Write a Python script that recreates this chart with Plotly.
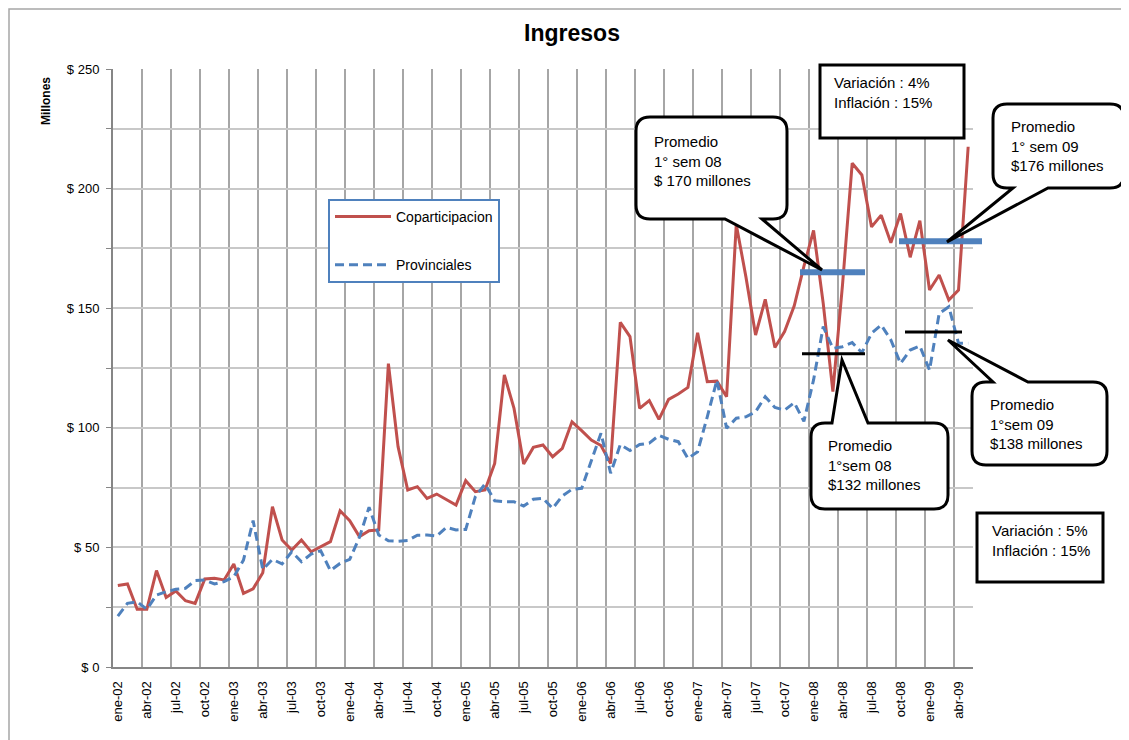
import plotly.graph_objects as go

MONTH_NAMES = ["ene", "feb", "mar", "abr", "may", "jun",
               "jul", "ago", "sep", "oct", "nov", "dic"]
YEARS = ["02", "03", "04", "05", "06", "07", "08", "09"]
MONTHS = [f"{m}-{y}" for y in YEARS for m in MONTH_NAMES][:89]

# millones de pesos, ene-02 .. may-09
COPARTICIPACION = [
    34.1, 34.7, 24.1, 24.1, 40.3, 29.1, 31.8, 27.7, 26.6, 36.8, 37.1, 36.4,
    43.1, 30.8, 32.7, 39.4, 67.0, 53.1, 48.9, 53.1, 48.2, 50.3, 52.4, 65.3,
    61.2, 54.5, 57.0, 57.3, 126.8, 92.1, 74.0, 75.4, 70.5, 72.3, 70.1, 67.7,
    77.9, 73.3, 74.0, 85.1, 122.1, 108.1, 84.9, 91.8, 92.8, 87.9, 91.4, 102.5,
    98.8, 94.9, 92.6, 85.1, 144.1, 138.1, 108.1, 111.4, 103.5, 111.9, 114.1, 116.9,
    139.7, 119.3, 119.5, 113.0, 185.0, 163.1, 138.8, 153.7, 133.6, 140.2, 151.0, 167.5,
    182.5, 152.0, 115.1, 160.0, 210.6, 205.7, 184.0, 188.9, 177.4, 189.6, 171.3, 186.6,
    157.6, 163.9, 153.4, 157.6, 217.5,
]
PROVINCIALES = [
    21.3, 26.6, 27.3, 24.1, 30.1, 31.5, 32.5, 32.9, 36.1, 36.4, 34.7, 35.7,
    37.7, 44.7, 61.2, 40.8, 45.0, 43.1, 48.2, 44.0, 47.2, 48.6, 40.3, 43.3,
    45.0, 54.2, 66.8, 55.2, 52.8, 52.6, 52.9, 55.1, 55.2, 54.8, 58.4, 57.3,
    57.5, 71.2, 76.5, 69.5, 69.1, 69.1, 67.3, 70.1, 70.5, 66.3, 71.5, 74.3,
    74.7, 86.5, 97.7, 81.0, 93.0, 90.5, 93.0, 93.6, 96.8, 95.2, 94.2, 87.2,
    90.0, 104.6, 120.0, 99.8, 104.0, 104.6, 106.7, 113.0, 108.5, 107.4, 110.5, 102.7,
    120.0, 142.3, 133.2, 133.9, 135.6, 131.4, 139.5, 143.0, 136.7, 126.9, 132.5, 134.2,
    124.1, 147.8, 150.6, 135.3, 135.3,
]

Y_TICKS = [0, 50, 100, 150, 200, 250]
Y_TICK_TEXT = ["$ 0", "$ 50", "$ 100", "$ 150", "$ 200", "$ 250"]

# niveles de las barras de promedio
PROM_COPART_08 = 165
PROM_COPART_09 = 178
PROM_PROV_08 = 131
PROM_PROV_09 = 140

FONT = "Liberation Sans, Arial, sans-serif"
RED = "#c0504d"
BLUE = "#4f81bd"

# page body has an 8px margin, so the figure is drawn 8px in
OFF = 8
W, H = 1129 - OFF, 740 - OFF
L, R, T, B = 113, 973, 69, 667  # plot area in page pixels


def px(x):
    return (x - L) / (R - L)


def py(y):
    return (B - y) / (B - T)


def P(x, y):
    return f"{px(x):.5f},{py(y):.5f}"


def bubble(x0, y0, x1, y1, b0, b1, tip, side, r=14):
    """Rounded callout with a wedge pointer, page pixels."""
    if side == "top":
        return (f"M {P(x0 + r, y0)} L {P(b0, y0)} L {P(*tip)} L {P(b1, y0)} "
                f"L {P(x1 - r, y0)} Q {P(x1, y0)} {P(x1, y0 + r)} "
                f"L {P(x1, y1 - r)} Q {P(x1, y1)} {P(x1 - r, y1)} "
                f"L {P(x0 + r, y1)} Q {P(x0, y1)} {P(x0, y1 - r)} "
                f"L {P(x0, y0 + r)} Q {P(x0, y0)} {P(x0 + r, y0)} Z")
    return (f"M {P(x0 + r, y0)} L {P(x1 - r, y0)} Q {P(x1, y0)} {P(x1, y0 + r)} "
            f"L {P(x1, y1 - r)} Q {P(x1, y1)} {P(x1 - r, y1)} "
            f"L {P(b1, y1)} L {P(*tip)} L {P(b0, y1)} "
            f"L {P(x0 + r, y1)} Q {P(x0, y1)} {P(x0, y1 - r)} "
            f"L {P(x0, y0 + r)} Q {P(x0, y0)} {P(x0 + r, y0)} Z")


x_idx = list(range(len(MONTHS)))

fig = go.Figure()
fig.add_trace(go.Scatter(
    x=x_idx, y=COPARTICIPACION, name="Coparticipacion", mode="lines",
    line=dict(color=RED, width=3), legendgroup="a",
))
fig.add_trace(go.Scatter(
    x=x_idx, y=PROVINCIALES, name="Provinciales", mode="lines",
    line=dict(color=BLUE, width=3, dash="9px,5px"), legendgroup="b",
))

shapes = [
    # chart border (only top/left are inside the page)
    dict(type="rect", xref="paper", yref="paper",
         x0=px(OFF + 1), x1=px(1160), y0=py(OFF + 1), y1=py(780),
         line=dict(color="#a6a6a6", width=1.5), layer="below"),
    # average bars
    dict(type="line", xref="paper", yref="y", x0=px(800), x1=px(865),
         y0=PROM_COPART_08, y1=PROM_COPART_08, line=dict(color=BLUE, width=6)),
    dict(type="line", xref="paper", yref="y", x0=px(899), x1=px(982),
         y0=PROM_COPART_09, y1=PROM_COPART_09, line=dict(color=BLUE, width=6)),
    dict(type="line", xref="paper", yref="y", x0=px(802), x1=px(865),
         y0=PROM_PROV_08, y1=PROM_PROV_08, line=dict(color="black", width=3)),
    dict(type="line", xref="paper", yref="y", x0=px(905), x1=px(962),
         y0=PROM_PROV_09, y1=PROM_PROV_09, line=dict(color="black", width=3)),
    # plain boxes
    dict(type="rect", xref="paper", yref="paper",
         x0=px(820), x1=px(964), y0=py(65), y1=py(138),
         line=dict(color="black", width=3), fillcolor="white"),
    dict(type="rect", xref="paper", yref="paper",
         x0=px(977), x1=px(1103), y0=py(513), y1=py(582),
         line=dict(color="black", width=3), fillcolor="white"),
]
for args in [
    (636, 117, 787, 219, 725, 762, (822, 270), "bottom"),
    (993, 104, 1124, 188, 1013, 1048, (947, 242), "bottom"),
    (811, 423, 948, 509, 832, 868, (842, 360), "top"),
    (972, 382, 1107, 465, 993, 1028, (948, 340), "top"),
]:
    shapes.append(dict(type="path", xref="paper", yref="paper",
                       path=bubble(*args), fillcolor="white",
                       line=dict(color="black", width=3)))

notes = [
    (652, 161, "Promedio<br>1° sem 08<br>$ 170 millones"),
    (1009, 146, "Promedio<br>1° sem 09<br>$176 millones"),
    (826, 465, "Promedio<br>1°sem 08<br>$132 millones"),
    (988, 424, "Promedio<br>1°sem 09<br>$138 millones"),
    (832, 93, "Variación : 4%<br>Inflación : 15%"),
    (990, 540, "Variación : 5%<br>Inflación : 15%"),
]
annotations = [
    dict(x=px(x), y=py(y), xref="paper", yref="paper", text=t,
         showarrow=False, xanchor="left", yanchor="middle", align="left",
         font=dict(family=FONT, size=15, color="black"))
    for x, y, t in notes
]
annotations.append(dict(
    x=px(46), y=py(101), xref="paper", yref="paper", text="<b>Millones</b>",
    showarrow=False, textangle=-90, xanchor="center", yanchor="middle",
    font=dict(family=FONT, size=12, color="black"),
))

fig.update_layout(
    width=W, height=H,
    margin=dict(l=L - OFF, r=W - (R - OFF), t=T - OFF, b=H - (B - OFF)),
    paper_bgcolor="white", plot_bgcolor="white",
    font=dict(family=FONT, size=13, color="black"),
    title=dict(text="<b>Ingresos</b>", x=(572 - OFF) / W,
               y=1 - (33 - OFF) / H, xanchor="center", yanchor="middle",
               font=dict(family=FONT, size=23, color="black")),
    legend=dict(x=px(328), y=py(199), xanchor="left", yanchor="top",
                bordercolor=BLUE, borderwidth=2, bgcolor="white",
                font=dict(family=FONT, size=14), traceorder="grouped",
                tracegroupgap=27, itemwidth=56, entrywidth=144),
    shapes=shapes,
    annotations=annotations,
)
fig.update_xaxes(
    range=[-0.5, len(MONTHS) - 0.5],
    tickmode="array", tickvals=x_idx[::3], ticktext=MONTHS[::3],
    tickangle=-90, ticks="", showgrid=False, zeroline=False,
    showline=True, linecolor="#868686", linewidth=2,
    tickfont=dict(family=FONT, size=13), ticklabelstandoff=7,
    minor=dict(tickmode="array",
               tickvals=[i - 0.5 for i in range(3, len(MONTHS), 3)],
               showgrid=True, gridcolor="#a6a6a6", gridwidth=1.5),
)
fig.update_yaxes(
    range=[0, 250], tickmode="array", tickvals=Y_TICKS, ticktext=Y_TICK_TEXT,
    ticks="outside", ticklen=5, tickcolor="#868686",
    showgrid=True, gridcolor="#c8c8c8", gridwidth=1.5, zeroline=False,
    showline=True, linecolor="#868686", linewidth=2,
    tickfont=dict(family=FONT, size=13), ticklabelstandoff=4,
    minor=dict(dtick=25, tick0=0, showgrid=True, gridcolor="#c8c8c8",
               gridwidth=1.5, ticks="outside", ticklen=5, tickcolor="#868686"),
)

fig.write_html("out.html")
